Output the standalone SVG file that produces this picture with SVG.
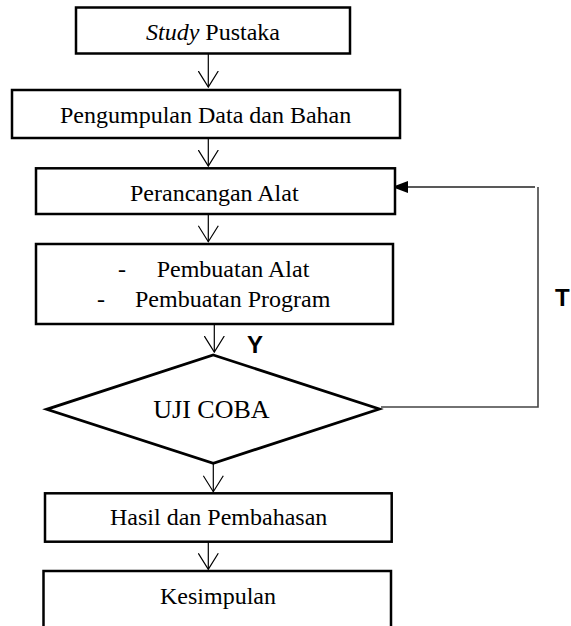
<svg xmlns="http://www.w3.org/2000/svg" width="571" height="626" viewBox="0 0 571 626">
<style>
.box{fill:#fff;stroke:#000;stroke-width:2.5}
.t{font-family:"Liberation Serif","Times New Roman",serif;font-size:24px;fill:#000}
.lbl{font-family:"Liberation Sans",Arial,sans-serif;font-size:24px;font-weight:bold;fill:#000}
.ln{fill:none;stroke:#000;stroke-width:1.2}
.fb{fill:none;stroke:#444;stroke-width:1.6}
</style>
<defs>
<marker id="open" markerWidth="22" markerHeight="18" refX="10.5" refY="16.5" markerUnits="userSpaceOnUse" orient="0">
<path d="M0.5,0.5 L10.5,16.5 L20.5,0.5" fill="none" stroke="#000" stroke-width="1.2"/>
</marker>
</defs>
<rect width="571" height="626" fill="#fff"/>
<g id="connectors">
<line class="ln" x1="208.3" y1="53.5" x2="208.3" y2="87" marker-end="url(#open)"/>
<line class="ln" x1="208.3" y1="138" x2="208.3" y2="166" marker-end="url(#open)"/>
<line class="ln" x1="208.3" y1="214" x2="208.3" y2="241.7" marker-end="url(#open)"/>
<line class="ln" x1="214.3" y1="324" x2="214.3" y2="352" marker-end="url(#open)"/>
<line class="ln" x1="213.3" y1="463.3" x2="213.3" y2="491.7" marker-end="url(#open)"/>
<line class="ln" x1="208.3" y1="541.7" x2="208.3" y2="569.3" marker-end="url(#open)"/>
<polyline class="fb" points="381,407 538,407 538,187"/>
<line x1="535" y1="187" x2="405" y2="187" stroke="#222" stroke-width="1.3"/>
<polygon points="392,187 408,181 408,193" fill="#000"/>
</g>
<g id="study-pustaka">
<rect class="box" x="76" y="7.5" width="274" height="46"/>
<text class="t" x="146" y="40"><tspan font-style="italic">Study</tspan> Pustaka</text>
</g>
<g id="pengumpulan">
<rect class="box" x="12" y="90" width="388" height="48"/>
<text class="t" x="60" y="123">Pengumpulan Data dan Bahan</text>
</g>
<g id="perancangan">
<rect class="box" x="36" y="168.3" width="359" height="45.7"/>
<text class="t" x="130" y="200.7">Perancangan Alat</text>
</g>
<g id="pembuatan">
<rect class="box" x="36" y="244" width="357" height="80"/>
<text class="t" x="118" y="276.7">-</text>
<text class="t" x="156.7" y="276.7">Pembuatan Alat</text>
<text class="t" x="97" y="306.7">-</text>
<text class="t" x="135" y="306.7">Pembuatan Program</text>
</g>
<g id="uji-coba">
<polygon points="213.3,355 379.3,409 213.3,463.3 46.7,409.3" fill="#fff" stroke="#000" stroke-width="2.8" stroke-linejoin="miter"/>
<text class="t" x="153.3" y="418.3" style="font-size:26px">UJI COBA</text>
</g>
<g id="hasil">
<rect class="box" x="45" y="493.3" width="346.7" height="48.4"/>
<text class="t" x="110" y="525">Hasil dan Pembahasan</text>
</g>
<g id="kesimpulan">
<rect class="box" x="43.5" y="571" width="347.5" height="70"/>
<text class="t" x="160" y="604">Kesimpulan</text>
</g>
<g id="labels">
<text class="lbl" x="247" y="352.5">Y</text>
<text class="lbl" x="555" y="305.7">T</text>
</g>
</svg>
